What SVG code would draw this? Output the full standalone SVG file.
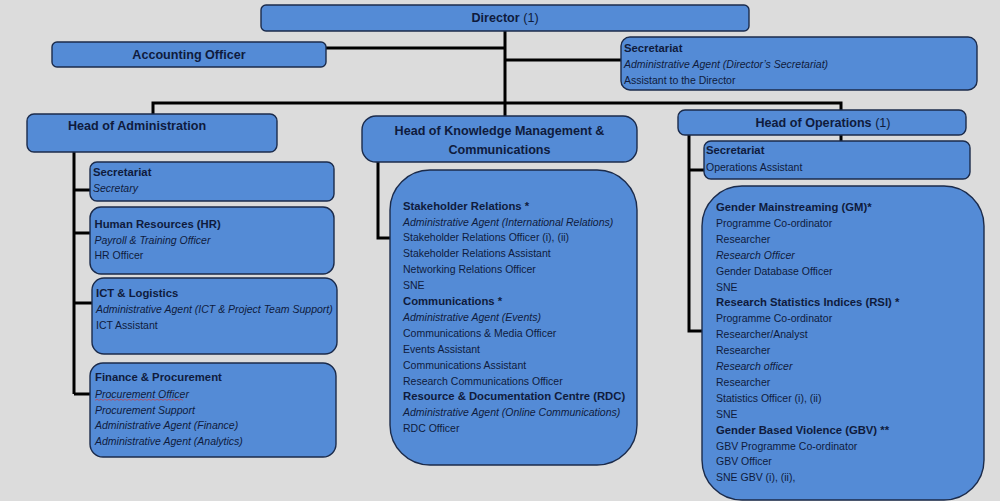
<svg xmlns="http://www.w3.org/2000/svg" width="1000" height="501" viewBox="0 0 1000 501">
<style>
.box{fill:#548bd6;stroke:#1b2b4b;stroke-width:1.4}
text{font-family:"Liberation Sans",Arial,sans-serif;fill:#0f1b3d;font-size:10.5px}
.b{font-weight:bold;font-size:11.3px}
.h{font-weight:bold;font-size:12.6px}
.i{font-style:italic}
.n{font-weight:normal}
.c{text-anchor:middle}
#connectors path{fill:none;stroke:#000;stroke-width:3}
</style>
<rect width="1000" height="501" fill="#dcdcdc"/>
<g id="connectors">
<path d="M505,31V103M326,48H505M505,60H621M153,114V103H841V110M505,103V116M841,135V141"/>
<path d="M74,152V394M74,190H90M74,233H90M74,303H92M74,394H90"/>
<path d="M378,162V238H390"/>
<path d="M689,135V331H702M689,170H704"/>
</g>
<g id="director">
<rect class="box" x="261" y="5" width="488" height="26" rx="5"/>
<text class="h c" x="505" y="21.5">Director <tspan class="n">(1)</tspan></text>
</g>
<g id="accounting-officer">
<rect class="box" x="52" y="42" width="274" height="25" rx="5"/>
<text class="h c" x="189" y="58.5">Accounting Officer</text>
</g>
<g id="director-secretariat">
<rect class="box" x="621" y="37" width="356" height="53" rx="9"/>
<text class="b" x="624" y="52">Secretariat</text>
<text class="i" x="624" y="68">Administrative Agent (Director’s Secretariat)</text>
<text x="624" y="84">Assistant to the Director</text>
</g>
<g id="head-administration">
<rect class="box" x="27" y="114" width="250" height="38" rx="7"/>
<text class="h" x="68" y="130">Head of Administration</text>
</g>
<g id="admin-secretariat">
<rect class="box" x="90" y="162" width="244" height="39" rx="7"/>
<text class="b" x="93" y="176">Secretariat</text>
<text class="i" x="93" y="192">Secretary</text>
</g>
<g id="human-resources">
<rect class="box" x="90" y="207" width="244" height="67" rx="11"/>
<text class="b" x="94.5" y="227.7">Human Resources (HR)</text>
<text class="i" x="94.5" y="243.5">Payroll &amp; Training Officer</text>
<text x="94.5" y="259.3">HR Officer</text>
</g>
<g id="ict-logistics">
<rect class="box" x="92" y="278" width="245" height="76" rx="12"/>
<text class="b" x="96" y="296.7">ICT &amp; Logistics</text>
<text class="i" x="96" y="313.3">Administrative Agent (ICT &amp; Project Team Support)</text>
<text x="96" y="329.3">ICT Assistant</text>
</g>
<g id="finance-procurement">
<rect class="box" x="90" y="363" width="246" height="94" rx="13"/>
<text class="b" x="95" y="381">Finance &amp; Procurement</text>
<text class="i" x="95" y="397.7">Procurement Officer</text>
<path d="M95,400.3l2,-1l2,1l2,-1l2,1l2,-1l2,1l2,-1l2,1l2,-1l2,1l2,-1l2,1l2,-1l2,1l2,-1l2,1l2,-1l2,1l2,-1l2,1l2,-1l2,1l2,-1l2,1l2,-1l2,1l2,-1l2,1l2,-1l2,1l2,-1l2,1l2,-1l2,1l2,-1l2,1l2,-1l2,1l2,-1l2,1l2,-1l2,1l2,-1l2,1" fill="none" stroke="#c8404a" stroke-width="0.7"/>
<text class="i" x="95" y="413.7">Procurement Support</text>
<text class="i" x="95" y="429.4">Administrative Agent (Finance)</text>
<text class="i" x="95" y="445">Administrative Agent (Analytics)</text>
</g>
<g id="head-knowledge-management">
<rect class="box" x="362" y="116" width="275" height="46" rx="14"/>
<text class="h c" x="499.5" y="135">Head of Knowledge Management &amp;</text>
<text class="h c" x="499.5" y="154">Communications</text>
</g>
<g id="km-units">
<rect class="box" x="390" y="170" width="247" height="295" rx="40"/>
<text class="b" x="403" y="209.5">Stakeholder Relations *</text>
<text class="i" x="403" y="225.5">Administrative Agent (International Relations)</text>
<text x="403" y="241.4">Stakeholder Relations Officer (i), (ii)</text>
<text x="403" y="257.3">Stakeholder Relations Assistant</text>
<text x="403" y="273.2">Networking Relations Officer</text>
<text x="403" y="289.1">SNE</text>
<text class="b" x="403" y="305">Communications *</text>
<text class="i" x="403" y="320.9">Administrative Agent (Events)</text>
<text x="403" y="336.8">Communications &amp; Media Officer</text>
<text x="403" y="352.7">Events Assistant</text>
<text x="403" y="368.6">Communications Assistant</text>
<text x="403" y="384.5">Research Communications Officer</text>
<text class="b" x="403" y="400.4">Resource &amp; Documentation Centre (RDC)</text>
<text class="i" x="403" y="416.3">Administrative Agent (Online Communications)</text>
<text x="403" y="432.2">RDC Officer</text>
</g>
<g id="head-operations">
<rect class="box" x="678" y="110" width="288" height="25" rx="7"/>
<text class="h c" x="823" y="126.5">Head of Operations <tspan class="n">(1)</tspan></text>
</g>
<g id="operations-secretariat">
<rect class="box" x="704" y="141" width="266" height="38" rx="7"/>
<text class="b" x="706" y="154.3">Secretariat</text>
<text x="706" y="170.7">Operations Assistant</text>
</g>
<g id="operations-units">
<rect class="box" x="702" y="186" width="282" height="314" rx="40"/>
<text class="b" x="716" y="211">Gender Mainstreaming (GM)*</text>
<text x="716" y="226.9">Programme Co-ordinator</text>
<text x="716" y="242.8">Researcher</text>
<text class="i" x="716" y="258.7">Research Officer</text>
<text x="716" y="274.6">Gender Database Officer</text>
<text x="716" y="290.5">SNE</text>
<text class="b" x="716" y="306.4">Research Statistics Indices (RSI) *</text>
<text x="716" y="322.3">Programme Co-ordinator</text>
<text x="716" y="338.2">Researcher/Analyst</text>
<text x="716" y="354.1">Researcher</text>
<text class="i" x="716" y="370">Research officer</text>
<text x="716" y="385.9">Researcher</text>
<text x="716" y="401.8">Statistics Officer (i), (ii)</text>
<text x="716" y="417.7">SNE</text>
<text class="b" x="716" y="433.6">Gender Based Violence (GBV) **</text>
<text x="716" y="449.5">GBV Programme Co-ordinator</text>
<text x="716" y="465.4">GBV Officer</text>
<text x="716" y="481.3">SNE GBV (i), (ii),</text>
</g>
</svg>
